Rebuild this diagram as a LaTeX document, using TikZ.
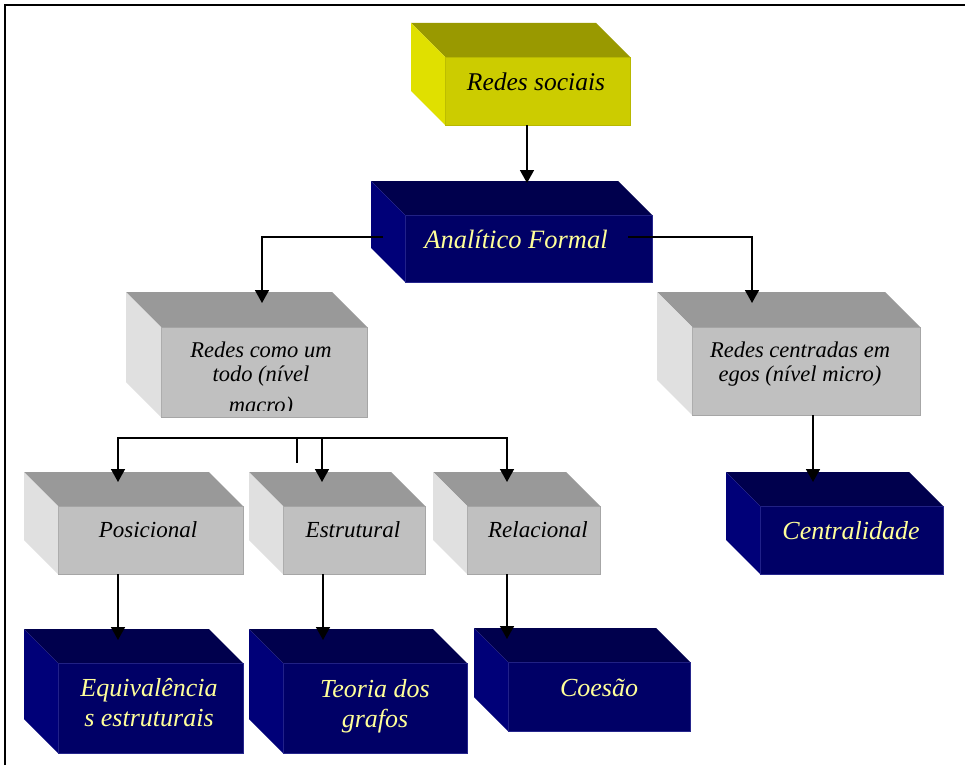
\documentclass[tikz,border=0pt]{standalone}
\usepackage{fontspec}
\setmainfont{Liberation Serif}
\usetikzlibrary{calc,arrows.meta}
\definecolor{olTop}{HTML}{999900}
\definecolor{olLeft}{HTML}{E0E000}
\definecolor{olFront}{HTML}{CCCC00}
\definecolor{olEdge}{HTML}{B8B800}
\definecolor{nvTop}{HTML}{00004D}
\definecolor{nvLeft}{HTML}{000078}
\definecolor{nvFront}{HTML}{000066}
\definecolor{nvEdge}{HTML}{26268C}
\definecolor{gyTop}{HTML}{999999}
\definecolor{gyLeft}{HTML}{E0E0E0}
\definecolor{gyFront}{HTML}{C0C0C0}
\definecolor{gyEdge}{HTML}{A6A6A6}
\definecolor{paleY}{HTML}{FFFF99}
\newcommand{\cubebox}[7]{%
  \node[frontface, fill=#7Front, draw=#7Edge, minimum width=#4pt, minimum height=#5pt] (#1) at (#2,#3) {};
  \fill[#7Top] ($(#1.north west)+(-#6,-#6)$) -- ($(#1.north east)+(-#6,-#6)$) -- (#1.north east) -- (#1.north west) -- cycle;
  \fill[#7Left] ($(#1.north west)+(-#6,-#6)$) -- (#1.north west) -- (#1.south west) -- ($(#1.south west)+(-#6,-#6)$) -- cycle;
}
\newcommand{\fsBig}{\fontsize{26}{30}\selectfont\itshape}
\newcommand{\fsMid}{\fontsize{22.5}{23.3}\selectfont\itshape}
\newcommand{\fsRow}{\fontsize{23}{25}\selectfont\itshape}
\tikzset{
  frontface/.style={rectangle, inner sep=0pt, outer sep=0pt, line width=0.8pt},
  arr/.style={line width=1.6pt, -{Triangle[width=14pt,length=13pt]}},
  plain/.style={line width=1.6pt},
  lblK/.style={text=black, inner sep=0pt},
  lblY/.style={text=paleY, inner sep=0pt},
}
\begin{document}
\begin{tikzpicture}[x=1pt,y=-1pt]
\fill[white] (0,0) rectangle (965,765);
\useasboundingbox (0,0) rectangle (965,765);
\draw[line width=1.5pt] (5,765) -- (5,5) -- (965,5);

% boxes
\cubebox{rs}{537.5}{91}{185}{68}{34}{ol}
\cubebox{af}{528.5}{248.5}{247}{67}{34}{nv}
\cubebox{rt}{264}{372}{206}{90}{35}{gy}
\cubebox{rc}{806}{371}{228}{88}{35}{gy}
\cubebox{pos}{150.5}{540}{185}{68}{34}{gy}
\cubebox{est}{354}{540}{142}{68}{34}{gy}
\cubebox{rel}{533.5}{540}{133}{68}{34}{gy}
\cubebox{ce}{851.5}{540}{183}{68}{34}{nv}
\cubebox{eq}{150.5}{708}{185}{90}{34}{nv}
\cubebox{tg}{375}{708}{184}{90}{34}{nv}
\cubebox{co}{599}{696.5}{182}{69}{34}{nv}

% labels
\node[lblK, anchor=base, font=\fontsize{25.5}{28}\selectfont\itshape] (rs-t) at (536,91) {Redes sociais};
\node[lblY, anchor=base, font=\fontsize{26.5}{30}\selectfont\itshape] (af-t) at (516,248) {Analítico Formal};
\begin{scope}
  \clip (rt.north west) rectangle ([yshift=7pt]rt.south east);
  \node[lblK, align=center, font=\fsMid] (rt-t) at (261,379.7) {Redes como um\\todo (nível\\[8pt]macro)};
\end{scope}
\node[lblK, align=center, font=\fsMid] (rc-t) at (800,364) {Redes centradas em\\egos (nível micro)};
\node[lblK, anchor=base, font=\fsRow] (pos-t) at (148,537) {Posicional};
\node[lblK, anchor=base, font=\fsRow] (est-t) at (353,537) {Estrutural};
\node[lblK, anchor=base, font=\fsRow] (rel-t) at (538,537) {Relacional};
\node[lblY, align=center, font=\fsBig] (eq-t) at (149,703) {Equivalência\\s estruturais};
\node[lblY, align=center, font=\fsBig] (tg-t) at (375,706) {Teoria dos\\grafos};
\node[lblY, anchor=base, font=\fsBig] (co-t) at (599,696) {Coesão};
\node[lblY, anchor=base, font=\fsBig] (ce-t) at (851,539) {Centralidade};

% connector end points
\coordinate (c1s) at ($(rs.south)+(-10.5,0)$);
\coordinate (c1e) at ($(af.north)+(-1.5,-32)$);
\coordinate (c2s) at ($(af.west)+(-22,-11.5)$);
\coordinate (c2e) at ($(rt.north)+(-2,-24)$);
\coordinate (c3s) at ($(af.east)+(-24,-11.5)$);
\coordinate (c3e) at ($(rc.north)+(-54,-24)$);
\coordinate (bar) at ($(est.north)+(-32,-68)$);
\coordinate (stA) at ($(bar)+(-25,0)$);
\coordinate (stB) at ($(bar)+(-25,25)$);
\coordinate (tPos) at ($(pos.north)+(-32.5,-24)$);
\coordinate (tEst) at ($(est.north)+(-32,-24)$);
\coordinate (tRel) at ($(rel.north)+(-26.5,-24)$);
\coordinate (sPos) at ($(pos.south)+(-32.5,0)$);
\coordinate (tEq) at ($(eq.north)+(-32.5,-23)$);
\coordinate (sEst) at ($(est.south)+(-31,0)$);
\coordinate (tTg) at ($(tg.north)+(-52,-23)$);
\coordinate (sRel) at ($(rel.south)+(-26.5,0)$);
\coordinate (tCo) at ($(co.north)+(-92,-23)$);
\coordinate (sRc) at ($(rc.south)+(7,0)$);
\coordinate (tCe) at ($(ce.north)+(-38.5,-24)$);

% connectors
\draw[arr] (c1s) -- (c1e);
\draw[arr] (c2s) -| (c2e);
\draw[arr] (c3s) -| (c3e);
\draw[arr] (bar) -| (tPos);
\draw[arr] (bar) -| (tRel);
\draw[arr] (bar) -- (tEst);
\draw[plain] (stA) -- (stB);
\draw[arr] (sPos) -- (tEq);
\draw[arr] (sEst) -- (tTg);
\draw[arr] (sRel) -- (tCo);
\draw[arr] (sRc) -- (tCe);
\end{tikzpicture}
\end{document}
